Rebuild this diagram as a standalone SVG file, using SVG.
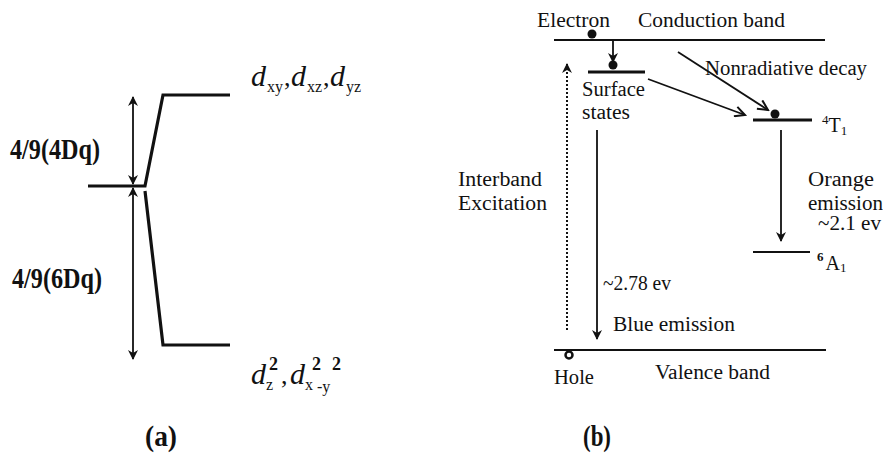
<svg xmlns="http://www.w3.org/2000/svg" width="883" height="458" viewBox="0 0 883 458">
<defs>
<marker id="tri" viewBox="0 0 10 10" refX="9" refY="5" markerWidth="10" markerHeight="12" markerUnits="userSpaceOnUse" orient="auto-start-reverse">
<path d="M0,0 L10,5 L0,10 L3,5 z" fill="#111"/>
</marker>
<marker id="vee" viewBox="0 0 12 12" refX="11" refY="6" markerWidth="14" markerHeight="12" markerUnits="userSpaceOnUse" orient="auto">
<path d="M1,1 L11,6 L1,11" fill="none" stroke="#111" stroke-width="2"/>
</marker>
</defs>
<style>
.lvl{stroke:#111;stroke-width:3.2;fill:none}
.thin{stroke:#111;stroke-width:1.8;fill:none}
.band{stroke:#111;stroke-width:2.2;fill:none}
.lbl{font-family:"Liberation Serif",serif;font-size:20px;fill:#111}
.big{font-family:"Liberation Serif",serif;font-size:30px;font-weight:bold;fill:#111}
.dl{font-family:"Liberation Serif",serif;fill:#111}
</style>
<rect width="883" height="458" fill="#fff"/>

<g id="panel-a">
<g id="split-lines">
<polyline class="lvl" points="88,186 145,186 163,95 230,95"/>
<polyline class="lvl" points="145,191 163,345 230,345"/>
</g>
<g id="connectors-a">
<line class="thin" x1="133" y1="97" x2="133" y2="184" marker-start="url(#tri)" marker-end="url(#tri)"/>
<line class="thin" x1="133" y1="188" x2="133" y2="359" marker-start="url(#tri)" marker-end="url(#tri)"/>
</g>
<text class="big" x="10" y="159" textLength="90" lengthAdjust="spacingAndGlyphs">4/9(4Dq)</text>
<text class="big" x="12" y="288" textLength="90" lengthAdjust="spacingAndGlyphs">4/9(6Dq)</text>
<g id="t2g-label">
<text class="dl" x="251" y="86" font-size="30" font-style="italic">d</text>
<text class="dl" x="267" y="92" font-size="16">xy</text>
<text class="dl" x="284" y="86" font-size="26">,</text>
<text class="dl" x="291" y="86" font-size="30" font-style="italic">d</text>
<text class="dl" x="307" y="92" font-size="16">xz</text>
<text class="dl" x="323" y="86" font-size="26">,</text>
<text class="dl" x="330" y="86" font-size="30" font-style="italic">d</text>
<text class="dl" x="346" y="92" font-size="16">yz</text>
</g>
<g id="eg-label">
<text class="dl" x="251" y="384" font-size="30" font-style="italic">d</text>
<text class="dl" x="266" y="390" font-size="16">z</text>
<text class="dl" x="269" y="370" font-size="18" font-weight="bold">2</text>
<text class="dl" x="281" y="384" font-size="26">,</text>
<text class="dl" x="290" y="384" font-size="30" font-style="italic">d</text>
<text class="dl" x="305" y="390" font-size="16">x</text>
<text class="dl" x="312" y="370" font-size="18" font-weight="bold">2</text>
<text class="dl" x="317" y="392" font-size="16">-y</text>
<text class="dl" x="332" y="370" font-size="18" font-weight="bold">2</text>
</g>
<text class="big" x="145" y="446" font-size="26" textLength="32" lengthAdjust="spacingAndGlyphs">(a)</text>
</g>

<g id="panel-b">
<g id="conduction-band">
<line class="band" x1="554" y1="40" x2="825" y2="40"/>
<text class="lbl" x="537" y="27" textLength="73" lengthAdjust="spacingAndGlyphs">Electron</text>
<text class="lbl" x="638" y="27" textLength="147" lengthAdjust="spacingAndGlyphs">Conduction band</text>
<circle cx="592" cy="34" r="4.5" fill="#111"/>
</g>
<g id="surface-states">
<line class="lvl" x1="588" y1="72" x2="645" y2="72"/>
<circle cx="613" cy="65" r="4.5" fill="#111"/>
<text class="lbl" x="582" y="96" textLength="63" lengthAdjust="spacingAndGlyphs">Surface</text>
<text class="lbl" x="582" y="119" textLength="48" lengthAdjust="spacingAndGlyphs">states</text>
</g>
<g id="level-4T1">
<line class="lvl" x1="753" y1="120" x2="812" y2="120"/>
<circle cx="775" cy="114" r="4.5" fill="#111"/>
<text class="lbl" x="822" y="132"><tspan font-size="13" dy="-8">4</tspan><tspan dy="8">T</tspan><tspan font-size="13" dy="3">1</tspan></text>
</g>
<g id="level-6A1">
<line class="band" x1="753" y1="252" x2="810" y2="252"/>
<text class="lbl" x="817" y="270"><tspan font-size="13" font-weight="bold" dy="-9">6</tspan><tspan dx="2" dy="9">A</tspan><tspan font-size="13" dy="2">1</tspan></text>
</g>
<g id="valence-band">
<line class="band" x1="554" y1="350" x2="826" y2="350"/>
<circle cx="569" cy="355" r="3.5" fill="#fff" stroke="#111" stroke-width="2.5"/>
<text class="lbl" x="554" y="384" textLength="40" lengthAdjust="spacingAndGlyphs">Hole</text>
<text class="lbl" x="655" y="379" textLength="115" lengthAdjust="spacingAndGlyphs">Valence band</text>
</g>
<g id="connectors-b">
<line class="thin" x1="613" y1="41" x2="613" y2="62" marker-end="url(#tri)"/>
<line x1="567" y1="330" x2="567" y2="64" stroke="#111" stroke-width="2" stroke-dasharray="2,2" marker-end="url(#tri)"/>
<line class="thin" x1="648" y1="79" x2="745" y2="115" marker-end="url(#vee)"/>
<line class="thin" x1="678" y1="52" x2="768" y2="110" marker-end="url(#vee)"/>
<line class="thin" x1="597" y1="130" x2="597" y2="339" marker-end="url(#tri)"/>
<line class="thin" x1="781" y1="130" x2="781" y2="241" marker-end="url(#tri)"/>
</g>
<text class="lbl" x="705" y="75" textLength="162" lengthAdjust="spacingAndGlyphs">Nonradiative decay</text>
<text class="lbl" x="458" y="186" textLength="84" lengthAdjust="spacingAndGlyphs">Interband</text>
<text class="lbl" x="458" y="210" textLength="89" lengthAdjust="spacingAndGlyphs">Excitation</text>
<text class="lbl" x="808" y="186" textLength="66" lengthAdjust="spacingAndGlyphs">Orange</text>
<text class="lbl" x="808" y="210" textLength="75" lengthAdjust="spacingAndGlyphs">emission</text>
<text class="lbl" x="818" y="230" font-size="17" textLength="63" lengthAdjust="spacingAndGlyphs">~2.1 ev</text>
<text class="lbl" x="603" y="290" font-size="17" textLength="68" lengthAdjust="spacingAndGlyphs">~2.78 ev</text>
<text class="lbl" x="613" y="331" textLength="122" lengthAdjust="spacingAndGlyphs">Blue emission</text>
<text class="big" x="583" y="446" font-size="26" textLength="28" lengthAdjust="spacingAndGlyphs">(b)</text>
</g>
</svg>
